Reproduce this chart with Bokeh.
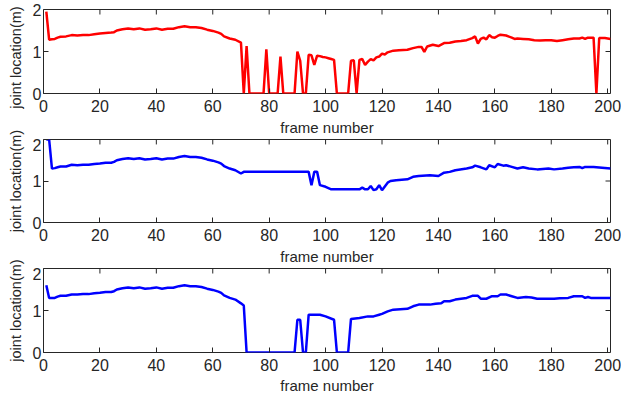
from bokeh.plotting import figure
from bokeh.layouts import column, row
from bokeh.models import Range1d, FixedTicker, Label, Div
from bokeh.embed import file_html
from bokeh.resources import INLINE

# ---------------- data ----------------
red_frames = [1, 2, 3, 4, 5, 6, 8, 10, 12, 14, 16, 18, 20, 22, 24, 25, 26, 28, 30, 32, 34, 36, 38, 40,
              42, 44, 46, 48, 50, 52, 54, 56, 58, 60, 62, 63, 64, 66, 68, 70, 71, 72, 73, 78, 79, 80,
              83, 84, 85, 89, 90, 91, 92, 93, 94, 95, 96, 97, 98, 99, 100, 101, 102, 103, 104, 108,
              109, 110, 111, 112, 113, 114, 115, 116, 117, 118, 119, 120, 121, 122, 124, 126, 129,
              131, 133, 134, 135, 136, 138, 140, 142, 144, 146, 148, 150, 152, 153, 154, 155, 156,
              157, 158, 159, 160, 161, 162, 164, 166, 167, 168, 170, 172, 174, 176, 178, 180, 182,
              184, 186, 188, 190, 191, 192, 193, 195, 196, 197, 199, 201]
red_vals = [1.95, 1.28, 1.29, 1.30, 1.33, 1.35, 1.36, 1.39, 1.38, 1.39, 1.39, 1.41, 1.43, 1.44, 1.45,
            1.46, 1.50, 1.53, 1.55, 1.53, 1.55, 1.52, 1.53, 1.55, 1.52, 1.54, 1.54, 1.58, 1.60, 1.58,
            1.58, 1.56, 1.52, 1.49, 1.45, 1.42, 1.36, 1.31, 1.28, 1.21, 0.0, 1.13, 0.0, 0.0, 1.05, 0.0,
            0.0, 0.88, 0.0, 0.0, 1.00, 0.78, 0.0, 0.0, 0.92, 0.91, 0.68, 0.90, 0.89, 0.87, 0.86, 0.84,
            0.82, 0.80, 0.0, 0.0, 0.78, 0.79, 0.0, 0.80, 0.82, 0.68, 0.76, 0.82, 0.79, 0.86, 0.88,
            0.95, 0.93, 0.98, 1.02, 1.03, 1.04, 1.08, 1.11, 1.11, 0.99, 1.12, 1.16, 1.13, 1.20, 1.21,
            1.24, 1.25, 1.27, 1.32, 1.36, 1.19, 1.30, 1.33, 1.29, 1.39, 1.34, 1.33, 1.37, 1.40, 1.38,
            1.33, 1.30, 1.31, 1.30, 1.29, 1.27, 1.26, 1.27, 1.27, 1.25, 1.27, 1.29, 1.31, 1.31, 1.33,
            1.30, 1.33, 1.33, 0.0, 1.32, 1.32, 1.30]

mid_frames = [1, 2, 3, 4, 5, 6, 8, 10, 12, 14, 16, 18, 20, 22, 24, 25, 26, 28, 30, 32, 34, 36, 38, 40,
              42, 44, 46, 48, 50, 52, 54, 56, 58, 60, 62, 63, 64, 66, 68, 70, 71, 94, 95, 96, 97, 98,
              100, 102, 112, 113, 114, 115, 116, 117, 118, 119, 120, 122, 123, 125, 129, 131, 133,
              137, 140, 142, 144, 146, 150, 152, 153, 155, 157, 158, 160, 161, 163, 164, 166, 168,
              170, 172, 175, 179, 181, 184, 186, 188, 190, 191, 192, 195, 198, 201]
mid_vals = [2.00, 2.00, 1.30, 1.31, 1.33, 1.35, 1.35, 1.39, 1.38, 1.39, 1.39, 1.41, 1.42, 1.44, 1.44,
            1.46, 1.50, 1.53, 1.55, 1.53, 1.55, 1.52, 1.53, 1.55, 1.52, 1.54, 1.54, 1.58, 1.60, 1.58,
            1.58, 1.56, 1.52, 1.49, 1.45, 1.42, 1.36, 1.30, 1.26, 1.18, 1.22, 1.22, 0.90, 1.22, 1.22,
            0.90, 0.86, 0.80, 0.80, 0.84, 0.80, 0.80, 0.88, 0.78, 0.80, 0.90, 0.78, 0.96, 1.00, 1.02,
            1.04, 1.10, 1.12, 1.14, 1.12, 1.20, 1.22, 1.26, 1.30, 1.33, 1.37, 1.33, 1.28, 1.38, 1.33,
            1.41, 1.37, 1.38, 1.34, 1.30, 1.33, 1.30, 1.28, 1.30, 1.28, 1.30, 1.32, 1.33, 1.34, 1.31,
            1.34, 1.34, 1.32, 1.30]

low_frames = [1, 2, 4, 5, 6, 8, 10, 12, 14, 16, 18, 20, 22, 24, 25, 26, 28, 30, 32, 34, 36, 38, 40,
              42, 44, 46, 48, 50, 52, 54, 56, 58, 60, 62, 63, 64, 66, 68, 70, 71, 72, 89, 90, 91, 92,
              93, 94, 98, 100, 103, 104, 108, 109, 112, 115, 117, 119, 120, 122, 124, 129, 131, 133,
              137, 139, 141, 142, 144, 146, 150, 152, 154, 155, 157, 159, 161, 162, 164, 166, 168,
              171, 173, 175, 181, 183, 186, 188, 191, 192, 193, 194, 201]
low_vals = [1.60, 1.30, 1.30, 1.33, 1.35, 1.35, 1.38, 1.38, 1.39, 1.39, 1.41, 1.42, 1.44, 1.44, 1.46,
            1.50, 1.53, 1.55, 1.53, 1.55, 1.52, 1.53, 1.55, 1.52, 1.54, 1.54, 1.58, 1.60, 1.58, 1.58,
            1.56, 1.52, 1.49, 1.45, 1.42, 1.36, 1.30, 1.26, 1.17, 1.12, 0.0, 0.0, 0.78, 0.78, 0.0,
            0.0, 0.90, 0.90, 0.86, 0.78, 0.0, 0.0, 0.80, 0.82, 0.86, 0.86, 0.90, 0.92, 0.98, 1.02,
            1.04, 1.10, 1.14, 1.14, 1.16, 1.17, 1.22, 1.22, 1.26, 1.30, 1.35, 1.35, 1.28, 1.28, 1.34,
            1.34, 1.38, 1.38, 1.34, 1.30, 1.32, 1.31, 1.28, 1.28, 1.29, 1.30, 1.34, 1.34, 1.30, 1.32,
            1.30, 1.30]

x_ticks = [0, 20, 40, 60, 80, 100, 120, 140, 160, 180, 200]
y_ticks = [0, 1, 2]
x_label = "frame number"
y_label = "joint location(m)"
caption_bold = "Fig. 5:"
caption_text = "Frame number versus the original joint location in the x direction"

AX = "#262626"
FONT = "Liberation Sans"
X_MAX, Y_MAX = 201, 2
TICK_X = 5 * X_MAX / 570   # 5 px in data units
TICK_Y = 5 * Y_MAX / 84


def make_fig(height, top, bottom, xs, ys, color, label_standoff=4):
    p = figure(width=592, height=height, output_backend="svg", toolbar_location=None,
               x_range=Range1d(0, X_MAX), y_range=Range1d(0, Y_MAX),
               min_border_left=11, min_border_right=11, min_border_top=top,
               min_border_bottom=bottom, x_axis_label=x_label)
    p.grid.visible = False
    p.outline_line_color = AX
    p.outline_line_width = 1
    p.background_fill_color = "white"
    p.border_fill_color = "white"

    # inward ticks on the top and right edges (MATLAB box style)
    p.segment(x0=x_ticks, y0=[Y_MAX] * len(x_ticks), x1=x_ticks,
              y1=[Y_MAX - TICK_Y] * len(x_ticks), line_color=AX, line_width=1)
    p.segment(x0=[X_MAX] * len(y_ticks), y0=y_ticks, x1=[X_MAX - TICK_X] * len(y_ticks),
              y1=y_ticks, line_color=AX, line_width=1)

    p.line(xs, ys, line_color=color, line_width=2.5)

    for ax, ticks in ((p.xaxis[0], x_ticks), (p.yaxis[0], y_ticks)):
        ax.ticker = FixedTicker(ticks=ticks)
        ax.major_tick_in = 5
        ax.major_tick_out = 0
        ax.minor_tick_line_color = None
        ax.major_tick_line_color = AX
        ax.axis_line_color = None
        ax.major_label_text_font = FONT
        ax.major_label_text_font_size = "16px"
        ax.major_label_text_color = AX
        ax.axis_label_text_font = FONT
        ax.axis_label_text_font_style = "normal"
        ax.axis_label_text_color = AX
    p.xaxis[0].major_label_standoff = 6
    p.xaxis[0].axis_label_standoff = label_standoff
    p.xaxis[0].axis_label_text_font_size = "15px"
    p.yaxis[0].major_label_standoff = 2
    return p


p1 = make_fig(138, 9, 45, red_frames, red_vals, "#ff0000")
p2 = make_fig(129, 1, 45, mid_frames, mid_vals, "#0000ff")
p3 = make_fig(129, 1, 44, low_frames, low_vals, "#0000ff", label_standoff=3)

# strip holding the three vertical y-axis labels (they overhang their panels)
lab = figure(width=29, height=396, output_backend="svg", toolbar_location=None,
             x_range=Range1d(0, 29), y_range=Range1d(396, 0), min_border=0,
             x_axis_type=None, y_axis_type=None)
lab.grid.visible = False
lab.outline_line_color = None
for yc in (57, 180.5, 310):
    lab.add_layout(Label(x=15, y=yc, text=y_label, angle=90, angle_units="deg",
                         text_align="center", text_baseline="middle", text_font=FONT,
                         text_font_size="14.5px", text_color=AX))

# the figure caption, cropped by the bottom of the picture (only its top shows)
cap_html = (
    '<div style="height:4px;overflow:hidden;">'
    '<div style="margin-top:-3px;padding-left:2px;white-space:nowrap;'
    "font-family:'Liberation Serif';font-size:19px;line-height:19px;color:#000;\">"
    f'<b>{caption_bold}</b>&nbsp;&nbsp;{caption_text}</div></div>'
)
cap = Div(text=cap_html, width=621, height=4, margin=0, styles={"overflow": "hidden"})

layout = column(row(lab, column(p1, p2, p3, spacing=0), spacing=0), cap, spacing=0)
open("out.html", "w").write(file_html(layout, INLINE))
